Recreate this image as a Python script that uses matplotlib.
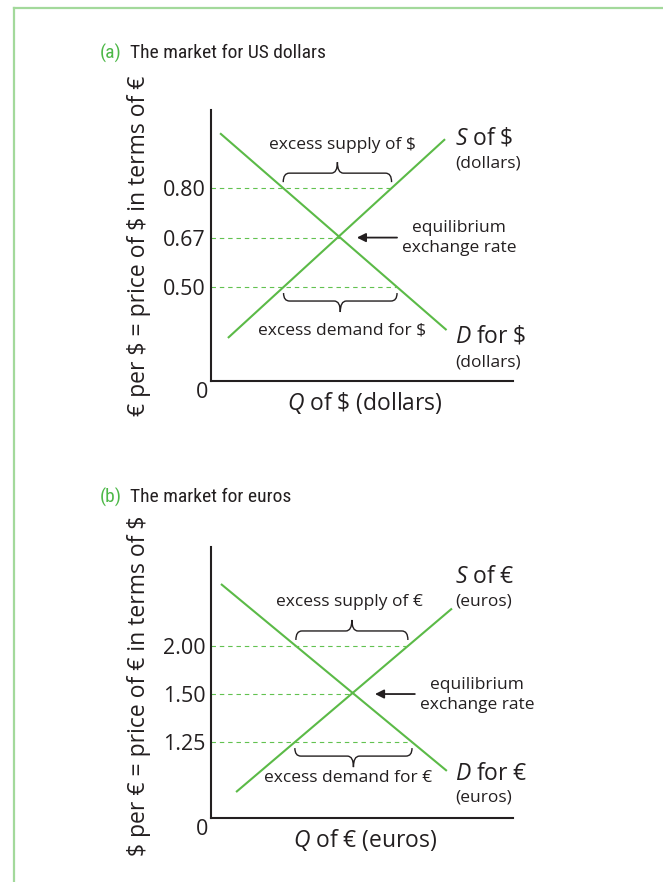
import numpy as np
import matplotlib.pyplot as plt
from matplotlib.path import Path
from matplotlib.patches import PathPatch
from matplotlib.lines import Line2D

plt.rcParams['font.family'] = ['Open Sans', 'DejaVu Sans']
plt.rcParams['mathtext.fontset'] = 'custom'
plt.rcParams['mathtext.rm'] = 'Open Sans'
plt.rcParams['mathtext.it'] = 'Open Sans:italic'

GREEN = '#5bba47'
DASH = '#62c250'
INK = '#231f20'
FRAME = '#a3d99b'

# price axis is schematic: the three prices sit at evenly spaced heights 1, 2, 3
# (a) market for US dollars
a_prices = ['0.50', '0.67', '0.80']
a_demand_q = [3.0, 78.0]
a_demand_p = [4.11, 0.13]
a_supply_q = [5.6, 77.5]
a_supply_p = [-0.03, 3.99]

# (b) market for euros
b_prices = ['1.25', '1.50', '2.00']
b_demand_q = [3.3, 78.1]
b_demand_p = [4.29, 0.40]
b_supply_q = [8.3, 79.8]
b_supply_p = [-0.04, 3.78]

LABEL = 16.5
SMALL = 12.5


def brace(ax, x0, x1, y_end, y_mid, y_tip, r=2.0):
    xm = (x0 + x1) / 2
    verts = [(x0, y_end), (x0, y_mid), (x0 + r, y_mid),
             (xm - r, y_mid), (xm, y_mid), (xm, y_tip),
             (xm, y_mid), (xm + r, y_mid),
             (x1 - r, y_mid), (x1, y_mid), (x1, y_end)]
    codes = [Path.MOVETO, Path.CURVE3, Path.CURVE3,
             Path.LINETO, Path.CURVE3, Path.CURVE3,
             Path.CURVE3, Path.CURVE3,
             Path.LINETO, Path.CURVE3, Path.CURVE3]
    ax.add_patch(PathPatch(Path(verts, codes), fill=False, ec=INK, lw=1.0,
                           clip_on=False))


def panel(ax, prices, dq, dp, sq, sp, ylim, px_per_level, cur, name, ylab, lay):
    levels = np.arange(1, len(prices) + 1)
    ax.set_xlim(0, 100)
    ax.set_ylim(*ylim)

    ax.plot(dq, dp, color=GREEN, lw=1.5, solid_capstyle='butt')
    ax.plot(sq, sp, color=GREEN, lw=1.5, solid_capstyle='butt')

    # where each price meets the demand and supply curves
    x_dem = np.interp(levels, dp[::-1], dq[::-1])
    x_sup = np.interp(levels, sp, sq)
    for lv, xd, xs in zip(levels, x_dem, x_sup):
        ax.plot([0, max(xd, xs)], [lv, lv], color=DASH, lw=0.8, dashes=(4, 3.5))

    u = 1.0 / px_per_level
    # excess supply above the top price, excess demand below the lowest price
    top, bot = levels[-1], levels[0]
    brace(ax, min(x_dem[-1], x_sup[-1]), max(x_dem[-1], x_sup[-1]),
          top + 6 * u, top + 15 * u, top + 26 * u)
    brace(ax, min(x_dem[0], x_sup[0]), max(x_dem[0], x_sup[0]),
          bot - 6 * u, bot - 14 * u, bot - 25 * u)

    ax.text(*lay['supply_txt'], 'excess supply of ' + cur, fontsize=SMALL,
            ha='center', va='center', color=INK)
    ax.text(*lay['demand_txt'], 'excess demand for ' + cur, fontsize=SMALL,
            ha='center', va='center', color=INK)

    ax.text(*lay['S'], r'$S$ of ' + cur, fontsize=LABEL, va='center', color=INK)
    ax.text(*lay['S_sub'], '(' + name + ')', fontsize=SMALL, va='center', color=INK)
    ax.text(*lay['D'], r'$D$ for ' + cur, fontsize=LABEL, va='center', color=INK)
    ax.text(*lay['D_sub'], '(' + name + ')', fontsize=SMALL, va='center', color=INK)

    ax.text(*lay['eq_txt'], 'equilibrium\nexchange rate', fontsize=SMALL,
            ha='center', va='center', linespacing=1.3, color=INK)
    ax.annotate('', xy=(lay['arrow'][1], 2), xytext=(lay['arrow'][0], 2),
                arrowprops=dict(arrowstyle='-|>', color=INK, lw=1.3,
                                mutation_scale=13, shrinkA=0, shrinkB=0))

    for side in ['top', 'right']:
        ax.spines[side].set_visible(False)
    for side in ['left', 'bottom']:
        ax.spines[side].set_linewidth(1.5)
        ax.spines[side].set_color(INK)
    ax.set_xticks([])
    ax.set_yticks(levels, prices)
    ax.tick_params(axis='y', length=0, pad=4, labelsize=15.5, labelcolor=INK)

    ax.set_ylabel(ylab, fontsize=LABEL, color=INK)
    ax.yaxis.set_label_coords(-0.20, lay['ylab_y'])
    ax.set_xlabel(r'$Q$ of ' + cur + ' (' + name + ')', fontsize=LABEL, color=INK,
                  va='center')
    ax.xaxis.set_label_coords(0.51, -0.08)
    ax.text(-0.03, -0.044, '0', transform=ax.transAxes, fontsize=15.5,
            ha='center', va='center', color=INK)


fig = plt.figure(figsize=(6.63, 8.82), dpi=100)
W, H = 663, 882

ax_a = fig.add_axes([211 / W, 1 - 381 / H, 302 / W, 271 / H])
ax_b = fig.add_axes([211 / W, 1 - 818 / H, 302 / W, 271 / H])

panel(ax_a, a_prices, a_demand_q, a_demand_p, a_supply_q, a_supply_p,
      (-0.90, 4.58), 49.5, r'\$', 'dollars',
      r'€ per \$ = price of \$ in terms of €',
      {'supply_txt': (43.4, 3.87), 'demand_txt': (43.4, 0.13),
       'S': (80.8, 4.01), 'S_sub': (80.8, 3.50),
       'D': (80.8, -0.01), 'D_sub': (80.8, -0.52),
       'eq_txt': (82.1, 1.99), 'arrow': (61.6, 48.3), 'ylab_y': 0.50})

panel(ax_b, b_prices, b_demand_q, b_demand_p, b_supply_q, b_supply_p,
      (-0.58, 5.06), 48.0, '€', 'euros',
      r'\$ per € = price of € in terms of \$',
      {'supply_txt': (46.0, 3.92), 'demand_txt': (45.4, 0.25),
       'S': (80.8, 4.44), 'S_sub': (80.8, 3.92),
       'D': (80.8, 0.33), 'D_sub': (80.8, -0.15),
       'eq_txt': (88.1, 1.98), 'arrow': (67.5, 54.3), 'ylab_y': 0.487})

# panel titles
title_font = ['Roboto Condensed', 'Liberation Sans Narrow', 'Open Sans Condensed',
              'DejaVu Sans']
for y, tag, title in [(53, '(a)', 'The market for US dollars'),
                      (497, '(b)', 'The market for euros')]:
    fig.text(100 / W, 1 - y / H, tag, color='#4db848', fontsize=14,
             family=title_font, stretch='condensed', va='center')
    fig.text(130 / W, 1 - y / H, title, color=INK, fontsize=14,
             family=title_font, stretch='condensed', va='center')

# frame around the box
fig.add_artist(Line2D([14 / W, 1], [1 - 8 / H, 1 - 8 / H], color=FRAME, lw=1.6,
                      transform=fig.transFigure))
fig.add_artist(Line2D([14 / W, 14 / W], [0, 1 - 8 / H], color=FRAME, lw=1.6,
                      transform=fig.transFigure))

fig.savefig('out.png', dpi=100)
